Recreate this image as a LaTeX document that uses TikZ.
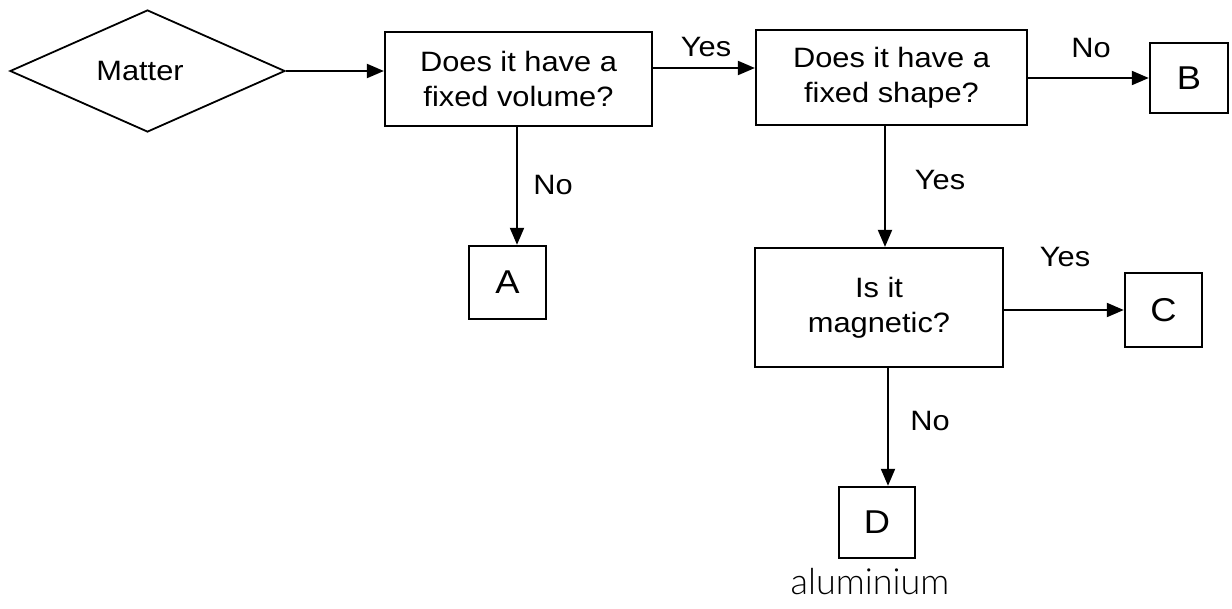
\documentclass[tikz,border=0pt]{standalone}
\usepackage{fontspec}
\setmainfont{Liberation Sans}[FakeStretch=1.1]
\newfontfamily\handfont{Lato Light}
\usetikzlibrary{arrows.meta,shapes.geometric}
\begin{document}
\begin{tikzpicture}[x=1pt,y=-1pt,
  every node/.style={font=\fontsize{28}{35}\selectfont},
  qbox/.style={draw,line width=2.2pt,minimum width=#1,align=center,inner sep=0pt},
  lbox/.style={draw,line width=2.4pt,inner sep=0pt,font=\fontsize{33}{35}\selectfont},
  conn/.style={line width=2pt,-{Triangle[length=17pt,width=14pt]}},
  lbl/.style={inner sep=0pt}]
\useasboundingbox (0,0) rectangle (1232,608);
\node[diamond,draw,line width=1.8pt,minimum width=275pt,minimum height=122pt,inner sep=0pt,aspect=2.25] (matter) at (147.5,71) {};
\node[lbl] at (140,71) {Matter};
\node[qbox=267pt,minimum height=94pt] (q1) at (518.5,79) {Does it have a\\fixed volume?};
\node[qbox=271pt,minimum height=95pt] (q2) at (891.5,77.5) {Does it have a\\fixed shape?};
\node[qbox=248pt,minimum height=119pt] (q3) at (879,307.5) {Is it\\magnetic?};
\node[lbox,minimum width=78pt,minimum height=70pt] (b) at (1189,78) {B};
\node[lbox,minimum width=77pt,minimum height=73pt] (a) at (507.5,282.5) {A};
\node[lbox,minimum width=77pt,minimum height=74pt] (c) at (1163.5,310) {C};
\node[lbox,minimum width=76pt,minimum height=71pt] (d) at (877,522.5) {D};
\draw[conn] (matter.east) -- (matter.east -| q1.west);
\draw[conn] (q2.west |- 0,68) ++(-103,0) coordinate (q1y) -- (q2.west |- 0,68);
\draw[conn] (q2.east |- b.west) -- (b.west);
\draw[conn] (517,0 |- q1.south) -- (517,0 |- a.north);
\draw[conn] (885,0 |- q2.south) -- (885,0 |- q3.north);
\draw[conn] (q3.east |- c.west) -- (c.west);
\draw[conn] (888,0 |- q3.south) -- (888,0 |- d.north);
\node[lbl] at (706,47) {Yes};
\node[lbl] at (1091,48) {No};
\node[lbl] at (553,185) {No};
\node[lbl] at (940,180) {Yes};
\node[lbl] at (1065,257) {Yes};
\node[lbl] at (930,421) {No};
\node[lbl,font=\handfont\fontsize{36}{36}\selectfont] at (870,582) {aluminium};
\end{tikzpicture}
\end{document}
